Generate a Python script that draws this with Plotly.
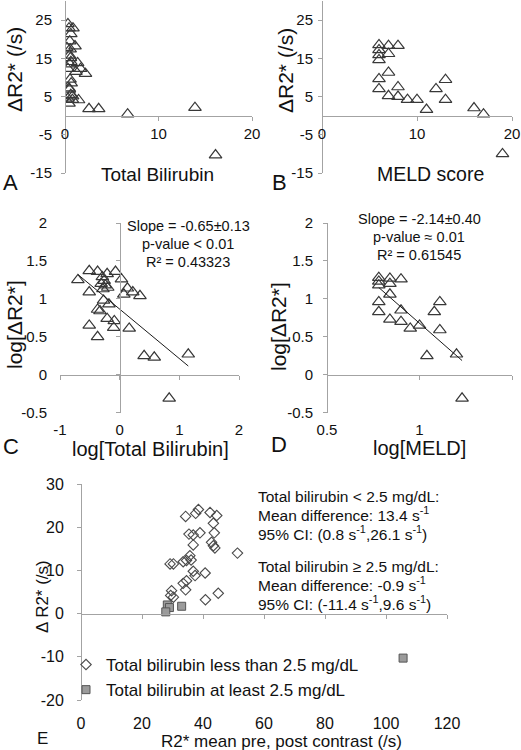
import numpy as np
import plotly.graph_objects as go

# ---------------- data ----------------
# Panel A: Total bilirubin vs delta R2*
a_bilirubin = [0.20, 0.31, 0.43, 0.62, 0.85, 0.51, 0.55, 0.49, 0.58, 0.63, 0.52, 1.07, 1.35, 1.17,
               1.66, 2.19, 0.31, 0.54, 0.66, 0.43, 0.47, 0.62, 0.81, 0.79, 1.45, 0.31, 0.43, 2.57,
               3.6, 13.9, 6.7, 16.1]
a_delta_r2 = [17.8, 24.0, 22.9, 21.4, 22.9, 19.5, 17.4, 15.8, 15.1, 14.1, 13.5, 18.2, 13.8, 11.5,
              12.3, 11.0, 12.3, 9.5, 8.5, 7.2, 6.9, 5.5, 5.1, 4.2, 4.1, 4.5, 3.2, 1.8,
              1.8, 2.1, 0.4, -10.3]

# Panel B: MELD score vs delta R2*
b_meld = [6, 7, 8, 6, 6, 6, 7, 7, 6, 6, 8, 7, 8, 9, 10, 11, 12, 13, 13, 16, 17, 19]
b_delta_r2 = [18.5, 18.3, 18.3, 17.2, 15.9, 14.6, 16.2, 11.3, 9.6, 7.0, 7.5, 5.2, 5.0, 4.2, 4.2,
              1.6, 7.0, 9.4, 4.2, 2.0, 0.4, -10.0]

# Panel C: log[Total Bilirubin] vs log[delta R2*]
c_log_bilirubin = [-0.70, -0.51, -0.37, -0.21, -0.07, -0.29, -0.26, -0.31, -0.24, -0.20, -0.28,
                   0.03, 0.13, 0.07, 0.22, 0.34, -0.51, -0.27, -0.18, -0.37, -0.33, -0.21, -0.09,
                   -0.10, 0.16, -0.51, -0.37, 0.41, 0.58, 1.15, 0.83]
c_log_delta_r2 = [1.25, 1.37, 1.36, 1.33, 1.36, 1.29, 1.24, 1.20, 1.18, 1.15, 1.13,
                  1.26, 1.14, 1.06, 1.09, 1.04, 1.09, 0.98, 0.93, 0.86, 0.84, 0.74, 0.71,
                  0.62, 0.61, 0.65, 0.50, 0.25, 0.23, 0.27, -0.31]
c_stats = ["Slope = -0.65±0.13", "p-value < 0.01", "R² = 0.43323"]

# Panel D: log[MELD] vs log[delta R2*]
d_log_meld = [0.78, 0.78, 0.78, 0.84, 0.90, 0.84, 0.84, 0.78, 0.78, 0.90, 0.84, 0.90, 0.95,
              1.00, 1.11, 1.08, 1.11, 1.04, 1.20, 1.23]
d_log_delta_r2 = [1.28, 1.23, 1.18, 1.27, 1.26, 1.20, 1.06, 0.96, 0.83, 0.85, 0.73, 0.70, 0.61,
                  0.65, 0.96, 0.83, 0.59, 0.25, 0.27, -0.31]
d_stats = ["Slope = -2.14±0.40", "p-value ≈ 0.01", "R² = 0.61545"]

# Panel E: R2* mean pre/post contrast vs delta R2*
e_low_mean = [38.5, 37.6, 34.3, 42.3, 44.5, 43.4, 35.4, 36.8, 39.0, 43.7, 36.8, 42.8, 43.4, 43.9,
              51.3, 35.7, 36.1, 34.6, 33.5, 30.3, 29.2, 40.7, 36.8, 37.4, 34.6, 33.5, 34.3, 29.7,
              29.4, 30.3, 45.0, 40.8]
e_low_delta = [24.1, 23.2, 22.5, 23.4, 22.7, 20.9, 18.4, 18.2, 18.7, 18.7, 15.9, 16.5, 15.7, 15.2,
               14.0, 13.4, 12.4, 12.3, 12.0, 11.5, 11.5, 9.4, 9.8, 8.8, 7.6, 7.0, 5.5, 5.3,
               4.2, 3.8, 4.7, 3.2]
e_high_mean = [28.3, 29.0, 27.8, 33.0, 105.6]
e_high_delta = [2.0, 1.4, 0.4, 1.7, -10.3]
e_names = ["Total bilirubin less than 2.5 mg/dL", "Total bilirubin at least 2.5 mg/dL"]
e_stats_low = ["Total bilirubin < 2.5 mg/dL:", "Mean difference: 13.4 s<sup>-1</sup>",
               "95% CI: (0.8 s<sup>-1</sup>,26.1 s<sup>-1</sup>)"]
e_stats_high = ["Total bilirubin ≥ 2.5 mg/dL:", "Mean difference: -0.9 s<sup>-1</sup>",
                "95% CI: (-11.4 s<sup>-1</sup>,9.6 s<sup>-1</sup>)"]

# tick values / labels
ab_x_ticks, ab_x_labels = [0, 10, 20], ["0", "10", "20"]
ab_y_ticks, ab_y_labels = [-15, -5, 5, 15, 25], ["-15", "-5", "5", "15", "25"]
c_x_ticks, c_x_labels = [-1, 0, 1, 2], ["-1", "0", "1", "2"]
cd_y_ticks, cd_y_labels = [-0.5, 0, 0.5, 1, 1.5, 2], ["-0.5", "0", "0.5", "1", "1.5", "2"]
d_x_ticks, d_x_labels = [0.5, 1, 1.5], ["0.5", "1", "1.5"]
e_x_ticks, e_x_labels = [0, 20, 40, 60, 80, 100, 120], ["0", "20", "40", "60", "80", "100", "120"]
e_y_ticks, e_y_labels = [-20, -10, 0, 10, 20, 30], ["-20", "-10", "0", "10", "20", "30"]

# ---------------- layout helpers ----------------
W, H = 521, 750
FONT = "Liberation Sans, Arial, Helvetica, sans-serif"
TXT = "#111111"
AX = "#a3a3a3"
MARK = "#383838"


def px(X):
    return X / W


def py(Y):
    return 1 - Y / H


def zero_at(domain, rng):
    return domain[0] + (0 - rng[0]) / (rng[1] - rng[0]) * (domain[1] - domain[0])


def axis(rng, tickvals, ticktext, position, domain=None, line=True, ticks=True, labels=True,
         standoff=0, size=15, overlaying=None):
    d = dict(range=rng, anchor="free", position=position, showgrid=False, zeroline=False,
             automargin=False,
             showline=line, linecolor=AX, linewidth=1,
             ticks="outside" if ticks else "", ticklen=4, tickwidth=1, tickcolor=AX,
             tickmode="array", tickvals=tickvals, showticklabels=labels,
             fixedrange=True)
    if labels:
        d["ticktext"] = ticktext
        d["tickfont"] = dict(family=FONT, size=size, color=TXT)
        d["ticklabelstandoff"] = standoff
    if domain is not None:
        d["domain"] = domain
    if overlaying:
        d["overlaying"] = overlaying
    return d


# panel domains (pixels of the 521x750 page)
xA, yA = [px(65), px(252)], [py(173), py(1)]
xB, yB = [px(322), px(512)], [py(173), py(1)]
xC, yC = [px(60), px(239)], [py(412.7), py(223)]
xD, yD = [px(327), px(512)], [py(412.7), py(223)]
xE, yE = [px(81), px(447)], [py(700), py(484)]
rAx, rAy = [0, 20], [-15, 30]
rCx, rCy = [-1, 2], [-0.5, 2]
rDx = [0.5, 1.5]
rEx, rEy = [0, 120], [-20, 30]

fig = go.Figure()

tri = dict(symbol="triangle-up-open", size=11, color=MARK, line=dict(width=1.2, color=MARK))

fig.add_trace(go.Scatter(x=a_bilirubin, y=a_delta_r2, mode="markers", marker=tri,
                         xaxis="x", yaxis="y", showlegend=False, hoverinfo="skip"))
fig.add_trace(go.Scatter(x=b_meld, y=b_delta_r2, mode="markers", marker=tri,
                         xaxis="x2", yaxis="y2", showlegend=False, hoverinfo="skip"))
fig.add_trace(go.Scatter(x=c_log_bilirubin, y=c_log_delta_r2, mode="markers", marker=tri,
                         xaxis="x3", yaxis="y3", showlegend=False, hoverinfo="skip"))
fig.add_trace(go.Scatter(x=d_log_meld, y=d_log_delta_r2, mode="markers", marker=tri,
                         xaxis="x4", yaxis="y4", showlegend=False, hoverinfo="skip"))

# linear trend lines fitted to the panel data
for xs, ys, xa, ya in [(c_log_bilirubin, c_log_delta_r2, "x3", "y3"),
                       (d_log_meld, d_log_delta_r2, "x4", "y4")]:
    k, b = np.polyfit(xs, ys, 1)
    xx = np.array([min(xs), max(xs)])
    fig.add_trace(go.Scatter(x=xx, y=k * xx + b, mode="lines", line=dict(color="#1a1a1a", width=1),
                             xaxis=xa, yaxis=ya, showlegend=False, hoverinfo="skip"))

fig.add_trace(go.Scatter(x=e_low_mean, y=e_low_delta, mode="markers", name=e_names[0],
                         marker=dict(symbol="diamond-open", size=8, color="#4a4a4a",
                                     line=dict(width=1.1, color="#4a4a4a")),
                         xaxis="x5", yaxis="y5", hoverinfo="skip"))
fig.add_trace(go.Scatter(x=e_high_mean, y=e_high_delta, mode="markers", name=e_names[1],
                         marker=dict(symbol="square", size=8, color="#9b9b9b",
                                     line=dict(width=1, color="#555555")),
                         xaxis="x5", yaxis="y5", hoverinfo="skip"))

# empty traces that bind the crossing axis lines
for xa, ya in [("x6", "y3"), ("x3", "y6"), ("x7", "y4"), ("x8", "y5")]:
    fig.add_trace(go.Scatter(x=[], y=[], mode="markers", xaxis=xa, yaxis=ya,
                             showlegend=False, hoverinfo="skip"))

layout_axes = dict(
    xaxis=axis(rAx, ab_x_ticks, ab_x_labels, zero_at(yA, rAy), domain=xA, standoff=0),
    yaxis=axis(rAy, ab_y_ticks, ab_y_labels, xA[0], domain=yA, standoff=6),
    xaxis2=axis(rAx, ab_x_ticks, ab_x_labels, zero_at(yB, rAy), domain=xB, standoff=0),
    yaxis2=axis(rAy, ab_y_ticks, ab_y_labels, xB[0], domain=yB, standoff=2),
    xaxis3=axis(rCx, c_x_ticks, c_x_labels, yC[0], domain=xC, line=False, ticks=False, standoff=6),
    yaxis3=axis(rCy, cd_y_ticks, cd_y_labels, xC[0], domain=yC, line=False, ticks=False, standoff=13),
    xaxis6=axis(rCx, c_x_ticks, c_x_labels, zero_at(yC, rCy), labels=False, overlaying="x3"),
    yaxis6=axis(rCy, cd_y_ticks, cd_y_labels, zero_at(xC, rCx), labels=False, overlaying="y3"),
    xaxis4=axis(rDx, d_x_ticks, d_x_labels, yD[0], domain=xD, line=False, ticks=False, standoff=6),
    yaxis4=axis(rCy, cd_y_ticks, cd_y_labels, xD[0], domain=yD, standoff=7),
    xaxis7=axis(rDx, d_x_ticks, d_x_labels, zero_at(yD, rCy), labels=False, overlaying="x4"),
    xaxis5=axis(rEx, e_x_ticks, e_x_labels, yE[0], domain=xE, line=False, ticks=False, standoff=12,
                size=16),
    yaxis5=axis(rEy, e_y_ticks, e_y_labels, xE[0], domain=yE, standoff=10, size=16),
    xaxis8=axis(rEx, e_x_ticks, e_x_labels, zero_at(yE, rEy), labels=False, overlaying="x5"),
)


def ann(text, X, Y, size, angle=0, xanchor="center"):
    return dict(text=text, x=px(X), y=py(Y), xref="paper", yref="paper", showarrow=False,
                xanchor=xanchor, yanchor="middle", textangle=angle,
                font=dict(family=FONT, size=size, color=TXT))


annotations = [
    # axis titles
    ann("Total Bilirubin", 157, 174, 19),
    ann("MELD score", 430, 174, 19.5),
    ann("log[Total Bilirubin]", 150, 449, 20),
    ann("log[MELD]", 419, 448, 20),
    ann("R2* mean pre, post contrast (/s)", 281, 741, 17),
    ann("ΔR2* (/s)", 14, 70, 21, angle=-90),
    ann("ΔR2* (/s)", 285, 71, 21, angle=-90),
    ann("log[ΔR2*]", 14, 325, 21, angle=-90),
    ann("log[ΔR2*]", 279, 327, 21, angle=-90),
    ann("Δ R2* (/s)", 42, 597, 17, angle=-90),
    # panel letters
    ann("A", 1, 182, 22, xanchor="left"),
    ann("B", 279, 182, 22),
    ann("C", 1, 446, 22, xanchor="left"),
    ann("D", 279, 444, 22),
    ann("E", 42, 738, 17),
]
for i, (yc, yd) in enumerate(zip([226, 244, 262], [219, 237, 255])):
    annotations.append(ann(c_stats[i], 188, yc, 14.5))
    annotations.append(ann(d_stats[i], 419, yd, 14.5))
for i, (y1, y2) in enumerate(zip([496, 514, 533], [566, 584, 603])):
    annotations.append(ann(e_stats_low[i], 256, y1, 15.5, xanchor="left"))
    annotations.append(ann(e_stats_high[i], 256, y2, 15.5, xanchor="left"))

fig.update_layout(
    template="none",
    width=W, height=H, autosize=False,
    margin=dict(l=0, r=0, t=0, b=0, pad=0),
    paper_bgcolor="white", plot_bgcolor="white",
    font=dict(family=FONT, color=TXT),
    hovermode=False,
    showlegend=True,
    legend=dict(x=px(66), y=py(647), xanchor="left", yanchor="top", bgcolor="rgba(0,0,0,0)",
                font=dict(family=FONT, size=17, color=TXT), itemwidth=30, tracegroupgap=0),
    annotations=annotations,
    **layout_axes,
)

# the page body gets no default margin so the 521x750 figure fills the window exactly
fig.write_html("out.html", config={"displayModeBar": False},
               post_script="document.body.style.margin='0px';")
